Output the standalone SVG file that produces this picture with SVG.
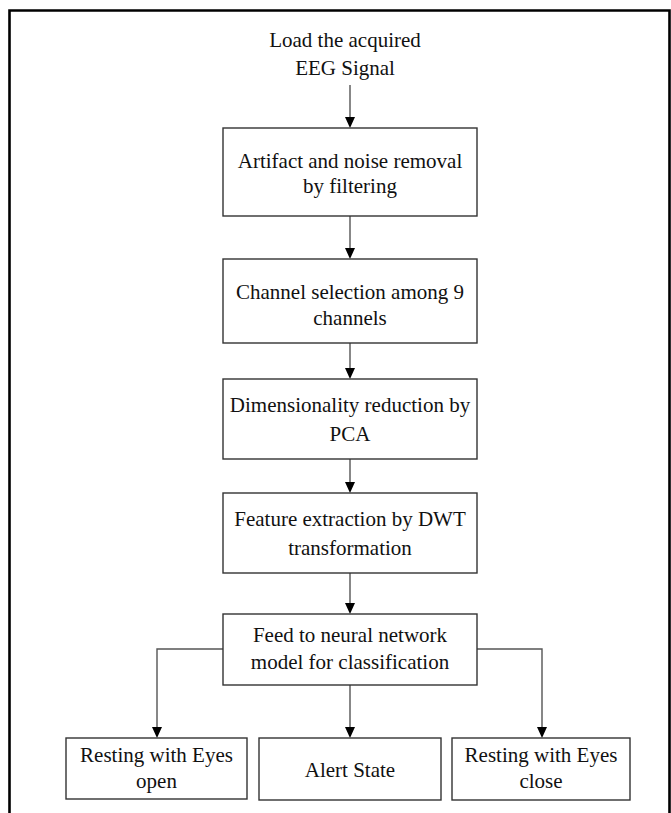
<svg xmlns="http://www.w3.org/2000/svg" width="671" height="813" viewBox="0 0 671 813">
<style>
  .box { fill: #ffffff; stroke: #333333; stroke-width: 1.4; }
  .lbl { font-size: 21px; fill: #111111; text-anchor: middle; }
  .edge { fill: none; stroke: #555555; stroke-width: 1.4; }
  .frame { fill: none; stroke: #000000; stroke-width: 2.6; }
</style>
<rect x="0" y="0" width="671" height="813" fill="#ffffff"/>
<path class="frame" d="M9.5 813 V10.5 H669.5 V813"/>

<g id="connectors">
  <path d="M350 85 V117" class="edge"/>
  <path d="M345 117 L355 117 L350 128 Z" fill="#000"/>
  <path d="M350 216 V248" class="edge"/>
  <path d="M345 248 L355 248 L350 259 Z" fill="#000"/>
  <path d="M350 343 V368" class="edge"/>
  <path d="M345 368 L355 368 L350 379 Z" fill="#000"/>
  <path d="M350 459 V482" class="edge"/>
  <path d="M345 482 L355 482 L350 493 Z" fill="#000"/>
  <path d="M350 573 V603" class="edge"/>
  <path d="M345 603 L355 603 L350 614 Z" fill="#000"/>
  <path d="M350 685 V727" class="edge"/>
  <path d="M345 727 L355 727 L350 738 Z" fill="#000"/>
  <path d="M223 649 H157 V727" class="edge"/>
  <path d="M152 727 L162 727 L157 738 Z" fill="#000"/>
  <path d="M477 649 H542 V727" class="edge"/>
  <path d="M537 727 L547 727 L542 738 Z" fill="#000"/>
</g>

<g font-family="Liberation Serif, DejaVu Serif, serif">
<g id="start">
  <text class="lbl" x="345" y="47">Load the acquired</text>
  <text class="lbl" x="345" y="75">EEG Signal</text>
</g>

<g id="filtering">
  <rect class="box" x="223" y="128" width="254" height="88"/>
  <text class="lbl" x="350" y="168">Artifact and noise removal</text>
  <text class="lbl" x="350" y="193">by filtering</text>
</g>

<g id="channel">
  <rect class="box" x="223" y="259" width="254" height="84"/>
  <text class="lbl" x="350" y="299">Channel selection among 9</text>
  <text class="lbl" x="350" y="325">channels</text>
</g>

<g id="pca">
  <rect class="box" x="223" y="379" width="254" height="80"/>
  <text class="lbl" x="350" y="412">Dimensionality reduction by</text>
  <text class="lbl" x="350" y="441">PCA</text>
</g>

<g id="dwt">
  <rect class="box" x="223" y="493" width="254" height="80"/>
  <text class="lbl" x="350" y="526">Feature extraction by DWT</text>
  <text class="lbl" x="350" y="555">transformation</text>
</g>

<g id="nn">
  <rect class="box" x="223" y="614" width="254" height="71"/>
  <text class="lbl" x="350" y="642">Feed to neural network</text>
  <text class="lbl" x="350" y="669">model for classification</text>
</g>

<g id="eyes-open">
  <rect class="box" x="66" y="738" width="181" height="61"/>
  <text class="lbl" x="156.5" y="762">Resting with Eyes</text>
  <text class="lbl" x="156.5" y="788">open</text>
</g>

<g id="alert">
  <rect class="box" x="259" y="738" width="182" height="62"/>
  <text class="lbl" x="350" y="777">Alert State</text>
</g>

<g id="eyes-close">
  <rect class="box" x="452" y="738" width="178" height="62"/>
  <text class="lbl" x="541" y="762">Resting with Eyes</text>
  <text class="lbl" x="541" y="788">close</text>
</g>
</g>
</svg>
